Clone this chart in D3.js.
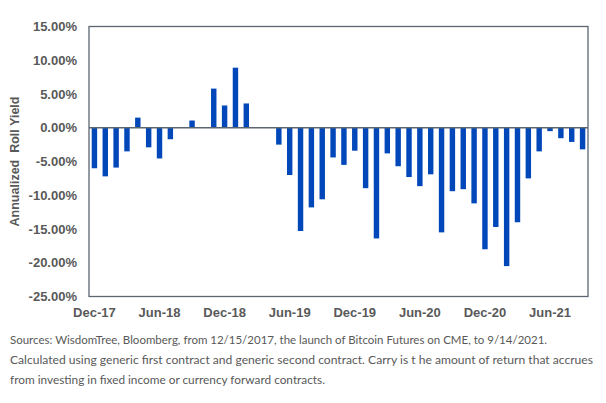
<!DOCTYPE html>
<html>
<head>
<meta charset="utf-8">
<script src="https://cdn.jsdelivr.net/npm/d3@7"></script>
<style>
  body { margin: 0; background: #fff; }
  svg { display: block; }
</style>
</head>
<body>
<div id="chart"></div>
<script>
// monthly annualized roll yield, Dec-17 .. Sep-21 (percent)
const months = ["Dec-17","Jan-18","Feb-18","Mar-18","Apr-18","May-18","Jun-18","Jul-18","Aug-18","Sep-18","Oct-18","Nov-18",
  "Dec-18","Jan-19","Feb-19","Mar-19","Apr-19","May-19","Jun-19","Jul-19","Aug-19","Sep-19","Oct-19","Nov-19",
  "Dec-19","Jan-20","Feb-20","Mar-20","Apr-20","May-20","Jun-20","Jul-20","Aug-20","Sep-20","Oct-20","Nov-20",
  "Dec-20","Jan-21","Feb-21","Mar-21","Apr-21","May-21","Jun-21","Jul-21","Aug-21","Sep-21"];
const rollYield = [-6.0, -7.2, -5.9, -3.5, 1.5, -2.9, -4.55, -1.7, 0, 1.07, 0, 5.8,
  3.3, 8.9, 3.6, 0, 0, -2.5, -7.0, -15.3, -11.8, -10.6, -4.4, -5.5,
  -3.4, -8.95, -16.4, -3.8, -5.7, -7.3, -8.65, -6.9, -15.5, -9.4, -9.1, -11.2,
  -18.0, -14.7, -20.5, -14.0, -7.5, -3.5, -0.5, -1.55, -2.1, -3.2];
const xTickLabels = ["Dec-17","Jun-18","Dec-18","Jun-19","Dec-19","Jun-20","Dec-20","Jun-21"];
const yTicks = [15, 10, 5, 0, -5, -10, -15, -20, -25];
const notes = [
  "Sources: WisdomTree, Bloomberg, from 12/15/2017, the launch of Bitcoin Futures on CME, to 9/14/2021.",
  "Calculated using generic first contract and generic second contract. Carry is t he amount of return that accrues",
  "from investing in fixed income or currency forward contracts."
];

const W = 606, H = 403;
const margin = {top: 26.5, right: 18, bottom: 106.5, left: 89};
const iw = W - margin.left - margin.right, ih = H - margin.top - margin.bottom;
const grey = "#595959", frame = "#5b6670";

const svg = d3.select("#chart").append("svg")
    .attr("width", W)
    .attr("height", H);

const g = svg.append("g")
    .attr("transform", `translate(${margin.left},${margin.top})`);

const x = d3.scaleBand()
    .domain(months)
    .range([0, iw])
    .paddingInner(0.5)
    .paddingOuter(0.25);

const y = d3.scaleLinear()
    .domain([-25, 15])
    .range([ih, 0]);

// bars
g.selectAll("rect.bar")
    .data(rollYield)
    .enter()
    .append("rect")
    .attr("class", "bar")
    .attr("x", (d, i) => x(months[i]))
    .attr("width", x.bandwidth())
    .attr("y", d => y(Math.max(0, d)))
    .attr("height", d => Math.abs(y(d) - y(0)))
    .attr("fill", "#0047ba");

// frame
g.append("rect")
    .attr("width", iw)
    .attr("height", ih)
    .attr("fill", "none")
    .attr("stroke", frame)
    .attr("stroke-width", 1.3);

// zero line
g.append("line")
    .attr("x1", 0).attr("x2", iw)
    .attr("y1", y(0)).attr("y2", y(0))
    .attr("stroke", frame)
    .attr("stroke-width", 1.3);

// y axis labels
const yAxis = g.append("g")
    .call(d3.axisLeft(y).tickValues(yTicks).tickSize(0).tickPadding(12)
        .tickFormat(d => d.toFixed(2) + "%"));
yAxis.select(".domain").remove();
yAxis.selectAll("text")
    .attr("fill", grey)
    .attr("font-family", "Liberation Sans, Arial, sans-serif")
    .attr("font-size", "13px")
    .attr("font-weight", "bold");

// x axis labels
const xAxis = g.append("g")
    .attr("transform", `translate(0,${ih})`)
    .call(d3.axisBottom(x).tickValues(xTickLabels).tickSize(0).tickPadding(11));
xAxis.select(".domain").remove();
xAxis.selectAll("text")
    .attr("fill", grey)
    .attr("font-family", "Liberation Sans, Arial, sans-serif")
    .attr("font-size", "13px")
    .attr("font-weight", "bold");

// y title
svg.append("text")
    .attr("transform", `translate(19,${margin.top + ih / 2}) rotate(-90)`)
    .attr("text-anchor", "middle")
    .attr("fill", grey)
    .attr("font-family", "Liberation Sans, Arial, sans-serif")
    .attr("font-size", "12.5px")
    .attr("font-weight", "bold")
    .attr("xml:space", "preserve")
    .text("Annualized  Roll Yield");

// footnote
const noteLengths = [537, 583, 315];
svg.selectAll("text.note")
    .data(notes)
    .enter()
    .append("text")
    .attr("class", "note")
    .attr("x", 10)
    .attr("y", (d, i) => 344 + i * 20)
    .attr("fill", grey)
    .attr("font-family", "Lato, sans-serif")
    .attr("font-size", "12px")
    .attr("textLength", (d, i) => noteLengths[i])
    .attr("lengthAdjust", "spacingAndGlyphs")
    .text(d => d);
</script>
</body>
</html>
